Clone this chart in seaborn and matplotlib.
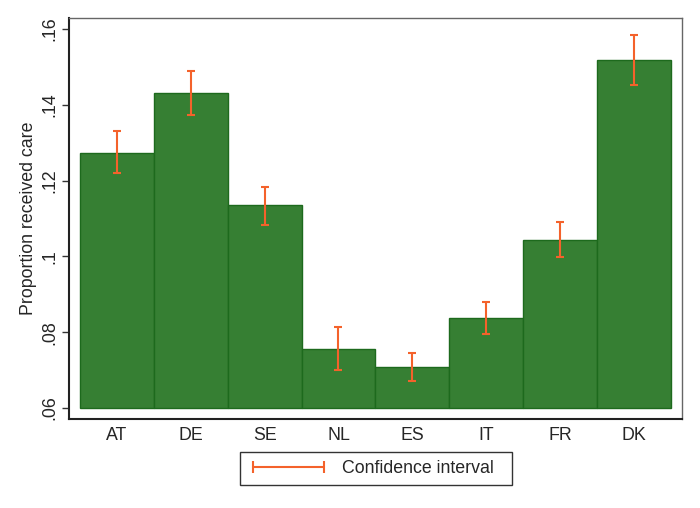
import numpy as np
import pandas as pd
import seaborn as sns
import matplotlib
matplotlib.use('Agg')
import matplotlib.pyplot as plt
from matplotlib.lines import Line2D

countries = ['AT', 'DE', 'SE', 'NL', 'ES', 'IT', 'FR', 'DK']
proportion = [0.1274, 0.1432, 0.1135, 0.0755, 0.0707, 0.0838, 0.1043, 0.1517]
ci_low = [0.1219, 0.1374, 0.1084, 0.0701, 0.0670, 0.0796, 0.0998, 0.1453]
ci_high = [0.1330, 0.1489, 0.1183, 0.0815, 0.0745, 0.0880, 0.1090, 0.1585]
yticks = [0.06, 0.08, 0.10, 0.12, 0.14, 0.16]
ytick_labels = ['.06', '.08', '.1', '.12', '.14', '.16']
base = 0.06

df = pd.DataFrame({'country': countries, 'proportion': proportion})

sns.set_style('white')
plt.rcParams['font.family'] = ['Liberation Sans', 'DejaVu Sans']

bar_color = '#367f33'
ci_color = '#f4622b'
fs = 12.8

fig = plt.figure(figsize=(7.0, 5.08), dpi=100)
ax = fig.add_axes([0.0986, 0.1752, 0.8754, 0.7894])

sns.barplot(data=df, x='country', y='proportion', color=bar_color,
            saturation=1, width=1, edgecolor='#1d6a1d', linewidth=1,
            errorbar=None, ax=ax)
# bars start at the .06 baseline as in the original
for p in ax.patches:
    top = p.get_y() + p.get_height()
    p.set_y(base)
    p.set_height(top - base)

xpos = np.arange(len(countries))
lo = np.array(ci_low)
hi = np.array(ci_high)
mid = (lo + hi) / 2
ax.errorbar(xpos, mid, yerr=(hi - lo) / 2, fmt='none', ecolor=ci_color,
            elinewidth=1.5, capsize=3, capthick=1.5, zorder=5)

ax.set_xlim(-0.649, 7.649)
ax.set_ylim(0.0571, 0.1629)
ax.set_yticks(yticks)
ax.set_yticklabels(ytick_labels, rotation=90, va='center')
ax.set_xlabel('')
ax.set_ylabel('Proportion received care', fontsize=fs, labelpad=3)
ax.tick_params(axis='y', length=5, width=1, labelsize=fs, direction='out',
               left=True, pad=3, color='#333333')
ax.tick_params(axis='x', length=0, labelsize=fs, pad=6)

for side in ['left', 'bottom']:
    ax.spines[side].set_color('#222222')
    ax.spines[side].set_linewidth(1.5)
for side in ['top', 'right']:
    ax.spines[side].set_color('#666666')
    ax.spines[side].set_linewidth(1.0)

handle = Line2D([0], [0], color=ci_color, lw=1.5, marker='|',
                markersize=8, markeredgewidth=1.5)
leg = ax.legend([handle], ['Confidence interval'], loc='upper left',
                bbox_to_anchor=(0.279, -0.082, 0.4437, 0), mode='expand',
                numpoints=2, handlelength=4.6, fontsize=fs, frameon=True,
                fancybox=False, edgecolor='black', borderpad=0.45,
                handletextpad=0.7, borderaxespad=0)
leg.get_frame().set_linewidth(1.0)

fig.savefig('out.png', dpi=100)
